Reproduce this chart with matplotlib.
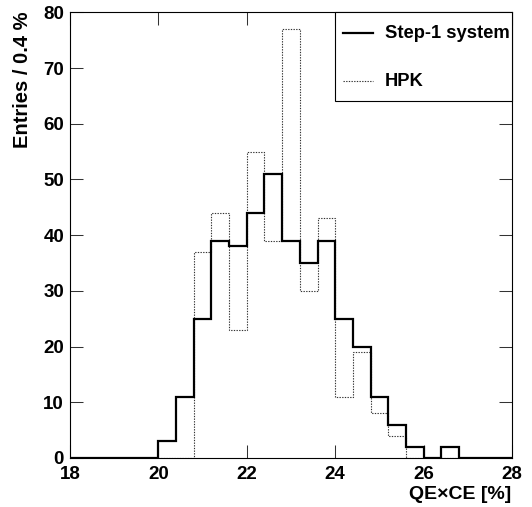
import numpy as np
import matplotlib
matplotlib.use("Agg")
import matplotlib.pyplot as plt
from matplotlib.patches import Rectangle
from matplotlib.lines import Line2D

# ---- data ----
bin_edges = np.round(np.arange(18.0, 28.0001, 0.4), 1)  # 25 bins of 0.4 %
step1_counts = [0, 0, 0, 0, 0, 3, 11, 25, 39, 38, 44, 51, 39, 35, 39, 25, 20, 11, 6, 2, 0, 2, 0, 0, 0]
hpk_counts   = [0, 0, 0, 0, 0, 0, 0, 37, 44, 23, 55, 39, 77, 30, 43, 11, 19, 8, 4, 0, 0, 0, 0, 0, 0]
legend_labels = ["Step-1 system", "HPK"]
x_ticks = [18, 20, 22, 24, 26, 28]
y_ticks = [0, 10, 20, 30, 40, 50, 60, 70, 80]

plt.rcParams['font.family'] = ['Liberation Sans', 'DejaVu Sans']
plt.rcParams['font.weight'] = 'bold'

W, H = 532, 507
fig = plt.figure(figsize=(W / 100, H / 100), dpi=100)
L, R, T, B = 70, 512, 12.3, 458
ax = fig.add_axes([L / W, 1 - B / H, (R - L) / W, (B - T) / H])

ax.stairs(hpk_counts, bin_edges, color='#333333', lw=0.8, linestyle=(0, (1.2, 1.2)), zorder=3)
ax.stairs(step1_counts, bin_edges, color='black', lw=1.6, zorder=4)

ax.set_xlim(18, 28)
ax.set_ylim(0, 80)
ax.set_xticks(x_ticks)
ax.set_yticks(y_ticks)
ax.set_xticklabels([str(v) for v in x_ticks])
ax.set_yticklabels([str(v) for v in y_ticks])
ax.tick_params(axis='both', which='major', direction='in', length=9.3, width=0.75,
               top=True, right=True, labelsize=13.5, color='#333333')
ax.tick_params(axis='x', pad=5.6)
ax.tick_params(axis='y', pad=4.3)
for lab in ax.get_xticklabels() + ax.get_yticklabels():
    lab.set_fontweight('bold')
for s in ax.spines.values():
    s.set_linewidth(0.8)

# legend box (ROOT style) in pixel-derived axes coordinates
def ax_xy(px, py):
    return (px - L) / (R - L), (B - py) / (B - T)

lx0, ly0 = ax_xy(335, 101.3)
lx1, ly1 = ax_xy(512, 12.3)
ax.add_patch(Rectangle((lx0, ly0), lx1 - lx0, ly1 - ly0, transform=ax.transAxes,
                       facecolor='white', edgecolor='black', lw=0.8, zorder=10, clip_on=False))
for (py, style, lw, color), label in zip([(33.3, '-', 1.6, 'black'), (80.5, (0, (1.2, 1.2)), 0.8, '#333333')],
                                         legend_labels):
    xa, ya = ax_xy(342.7, py)
    xb, _ = ax_xy(372.7, py)
    ax.add_line(Line2D([xa, xb], [ya, ya], transform=ax.transAxes, color=color, lw=lw,
                       linestyle=style, zorder=11, clip_on=False))
    xt, yt = ax_xy(385, py + 0.5)
    ax.text(xt, yt, label, transform=ax.transAxes, ha='left', va='center',
            fontsize=13.2, fontweight='bold', zorder=12)

fig.text(511.7 / W, 1 - 499 / H, "QE\u00d7CE [%]", ha='right', va='baseline',
         fontsize=14, fontweight='bold')
fig.text(22.5 / W, 1 - 11 / H, "Entries / 0.4 %", rotation=90, ha='center', va='top',
         fontsize=14.5, fontweight='bold')

fig.savefig("out.png", dpi=100)
